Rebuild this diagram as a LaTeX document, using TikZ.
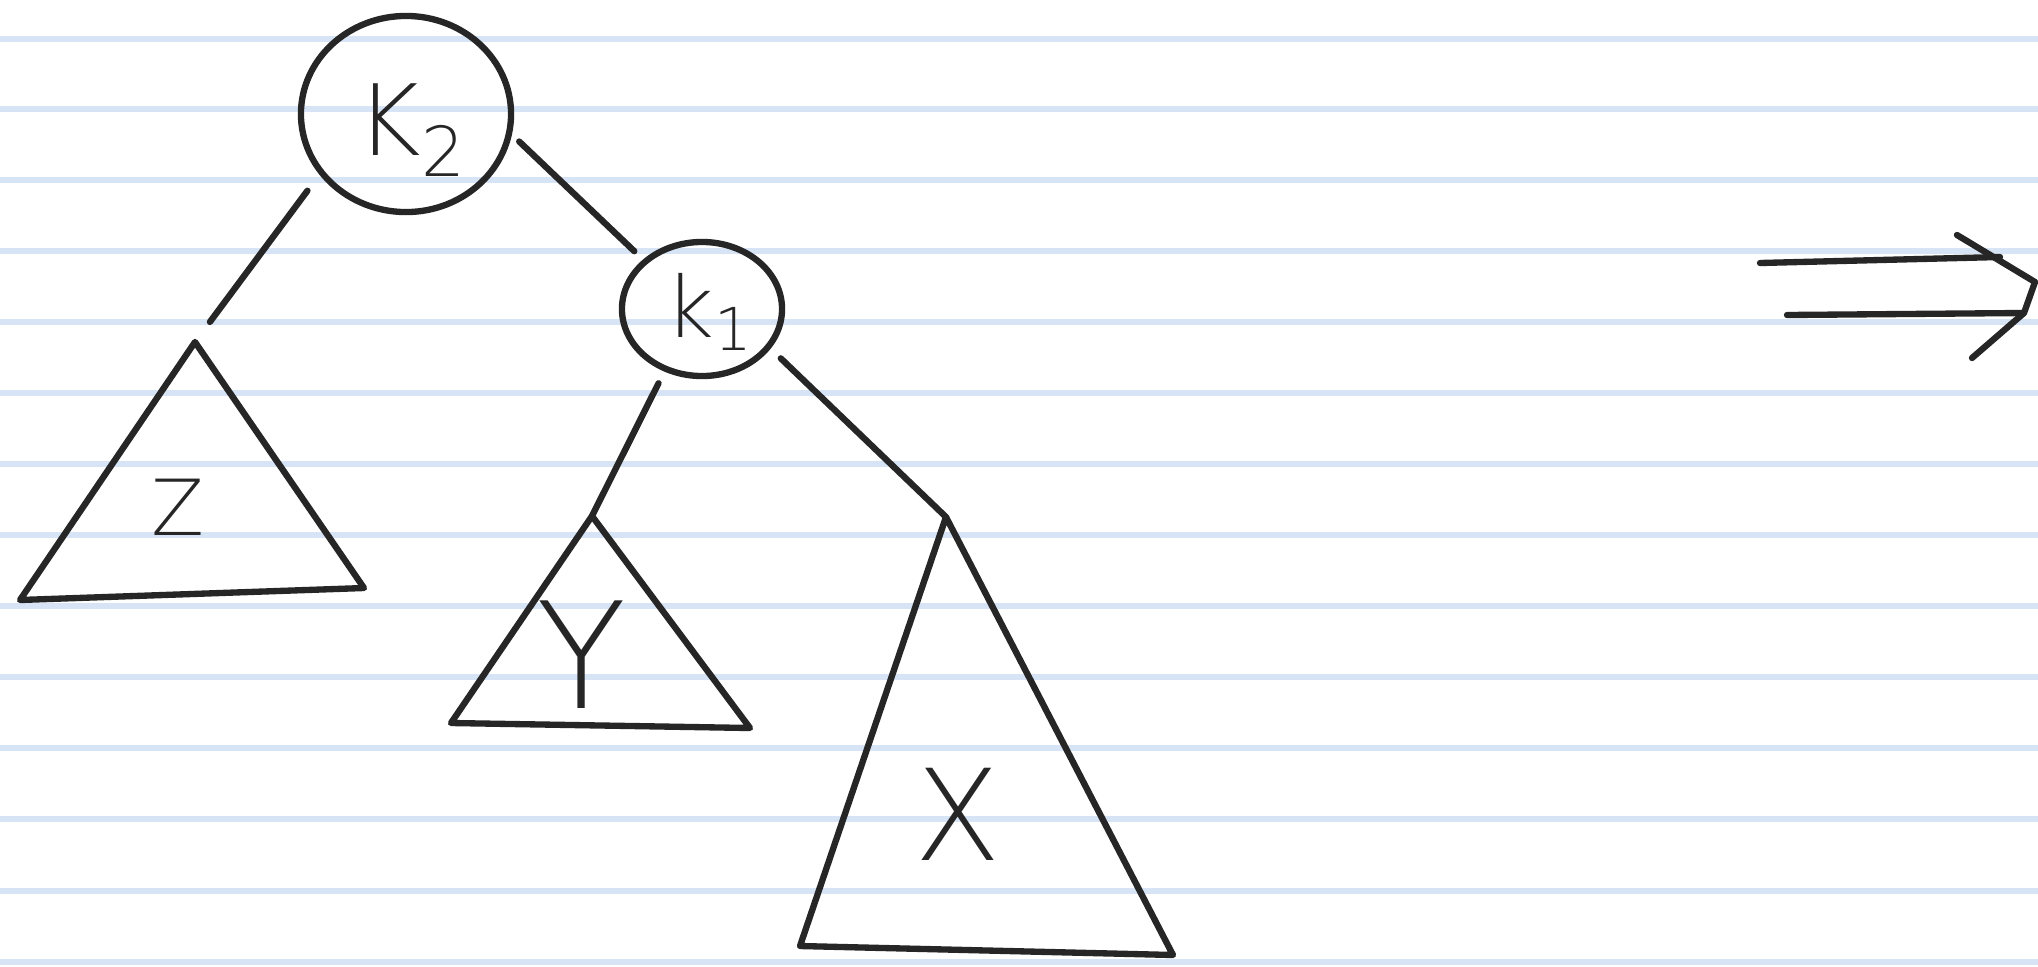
\documentclass[tikz,border=0pt]{standalone}
\usepackage{fontspec}
\newfontfamily\handfont{DejaVu Sans ExtraLight}
\usepackage{xcolor}
\definecolor{inkblack}{RGB}{38, 38, 38}
\definecolor{ruleblue}{RGB}{214, 228, 246}
\usepackage{tikz}
\usetikzlibrary{shapes.geometric}

\begin{document}
\begin{tikzpicture}[
  x=0.01cm, y=-0.01cm,
  pen/.style={draw=inkblack, line width=1.8pt, line cap=round, line join=round},
  key/.style={ellipse, pen, inner sep=0pt},
  sub/.style={font=\fontsize{#1}{#1}\selectfont\handfont, text=inkblack, inner sep=0pt},
  rule/.style={draw=ruleblue, line width=1.6pt},
]
% Paper and ruling
\useasboundingbox[fill=white] (0,0) rectangle (2038,966);
\foreach \yy in {39,109,180,251,322,393,464,535,606,677,748,819,891,962}
  \draw[rule] (0,\yy) -- (2038,\yy);

% Keys
\node[key, minimum width=2.1cm, minimum height=1.96cm] (k2) at (406,114) {};
\node[sub=28] (k2lbl) at (412,130) {K\textsubscript{2}};
\node[key, minimum width=1.6cm, minimum height=1.34cm] (k1) at (702,309) {};
\node[sub=24] (k1lbl) at (710,312) {k\textsubscript{1}};

% Subtree Z
\coordinate (zTop) at (195,342);
\coordinate (zL) at (20,600);
\coordinate (zR) at (364,588);
\draw[pen] (zTop) -- (zL) -- (zR) -- cycle;
\node[sub=22] (zlbl) at (178,507) {Z};

% Subtree Y
\coordinate (yTop) at (592,516);
\coordinate (yL) at (451,723);
\coordinate (yR) at (750,728);
\draw[pen] (yTop) -- (yL) -- (yR) -- cycle;
\node[sub=42] (ylbl) at (582,655) {Y};

% Subtree X
\coordinate (xTop) at (946,517);
\coordinate (xL) at (800,946);
\coordinate (xR) at (1173,955);
\draw[pen] (xTop) -- (xL) -- (xR) -- cycle;
\node[sub=36] (xlbl) at (958,814) {X};

% Tree edges
\draw[pen, shorten <=0.2cm, shorten >=0.25cm] (k2.215) -- (zTop);
\draw[pen, shorten <=0.1cm, shorten >=0.12cm] (k2.349) -- (k1.140);
\draw[pen, shorten <=0.13cm] (k1.239) -- (yTop);
\draw[pen, shorten <=0.14cm] (k1.330) -- (xTop);

% Rotation arrow
\coordinate (arrA) at (1760,263);
\coordinate (arrB) at (1787,315);
\coordinate (arrTip) at (2035,282);
\draw[pen] (arrA) -- (2000,257);
\draw[pen] (arrB) -- (2023,313);
\draw[pen] (1957,235) -- (arrTip) -- (2024,313) -- (1972,358);
\end{tikzpicture}
\end{document}
